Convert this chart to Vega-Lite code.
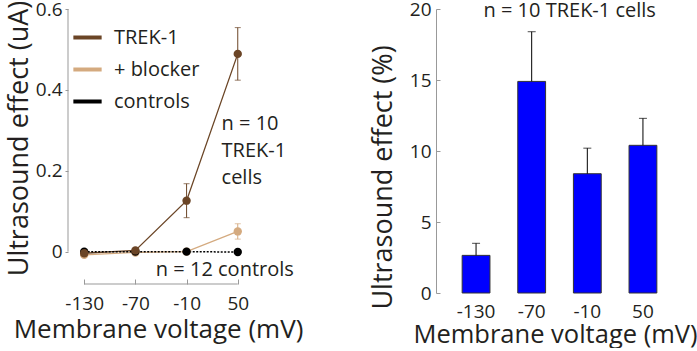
{
  "$schema": "https://vega.github.io/schema/vega-lite/v6.json",
  "padding": {"left": 5, "top": 0, "right": 0, "bottom": 0},
  "background": "white",
  "config": {
    "font": "Open Sans",
    "view": {"stroke": null},
    "axis": {
      "grid": false,
      "labelFont": "Open Sans",
      "titleFont": "Open Sans",
      "labelColor": "#231f20",
      "titleColor": "#231f20",
      "labelFontSize": 19,
      "titleFontSize": 26,
      "titleFontWeight": "normal",
      "domainColor": "#999999",
      "tickColor": "#999999"
    },
    "concat": {"spacing": 188}
  },
  "bounds": "flush",
  "resolve": {"legend": {"color": "independent"}},
  "hconcat": [
    {
      "width": 180,
      "height": 275,
      "data": {
        "values": [
          {"series": "+ blocker", "v": -130, "y": -0.008, "lo": -0.011, "hi": -0.005},
          {"series": "+ blocker", "v": -70, "y": -0.002, "lo": -0.005, "hi": 0.001},
          {"series": "+ blocker", "v": -10, "y": 0.0, "lo": -0.003, "hi": 0.003},
          {"series": "+ blocker", "v": 50, "y": 0.05, "lo": 0.031, "hi": 0.069},
          {"series": "controls", "v": -130, "y": 0.0, "lo": -0.002, "hi": 0.002},
          {"series": "controls", "v": -70, "y": 0.0, "lo": -0.002, "hi": 0.002},
          {"series": "controls", "v": -10, "y": 0.0, "lo": -0.002, "hi": 0.002},
          {"series": "controls", "v": 50, "y": -0.001, "lo": -0.003, "hi": 0.001},
          {"series": "TREK-1", "v": -130, "y": -0.004, "lo": -0.007, "hi": -0.001},
          {"series": "TREK-1", "v": -70, "y": 0.003, "lo": 0.0, "hi": 0.006},
          {"series": "TREK-1", "v": -10, "y": 0.126, "lo": 0.084, "hi": 0.168},
          {"series": "TREK-1", "v": 50, "y": 0.489, "lo": 0.424, "hi": 0.554}
        ]
      },
      "encoding": {
        "x": {
          "field": "v", "type": "quantitative",
          "scale": {"domain": [-149, 62], "nice": false, "zero": false},
          "axis": {
            "values": [-130, -70, -10, 50], "labelExpr": "'' + datum.value", "domain": false, "tickSize": -5,
            "labelPadding": 15, "title": "Membrane voltage (mV)", "titlePadding": 3
          }
        },
        "y": {
          "field": "y", "type": "quantitative",
          "scale": {"domain": [-0.08, 0.6], "nice": false, "zero": false},
          "axis": {
            "values": [0, 0.2, 0.4, 0.6], "format": ".1~f", "domain": false,
            "tickSize": 3, "labelPadding": 3, "title": "Ultrasound effect (uA)",
            "titleFontSize": 27, "titlePadding": 2, "titleY": 129
          }
        }
      },
      "layer": [
        {
          "transform": [{"filter": "datum.series === 'TREK-1' && datum.v === 50"}],
          "mark": {"type": "rule", "color": "#999999", "strokeWidth": 1},
          "encoding": {"x": {"datum": -130}, "x2": {"datum": 50}, "y": {"datum": -0.08}}
        },
        {
          "transform": [{"filter": "datum.series === 'TREK-1' && datum.v === 50"}],
          "mark": {"type": "rule", "color": "#999999", "strokeWidth": 1},
          "encoding": {"x": {"datum": -149}, "y": {"datum": 0}, "y2": {"datum": 0.6}}
        },
        {
          "transform": [{"filter": "datum.series !== 'controls'"}],
          "mark": {"type": "line", "strokeWidth": 1.3},
          "encoding": {
            "color": {
              "field": "series", "type": "nominal",
              "scale": {"domain": ["TREK-1", "+ blocker", "controls"], "range": ["#6b4526", "#d4aa7f", "#000000"]},
              "legend": {
                "orient": "none", "legendX": 3, "legendY": 12, "title": null,
                "symbolType": "stroke", "symbolStrokeWidth": 4, "symbolSize": 800,
                "symbolDash": [], "labelFontSize": 20, "labelColor": "#231f20",
                "labelOffset": 10, "rowPadding": 5, "padding": 0
              }
            }
          }
        },
        {
          "transform": [{"filter": "datum.series === 'controls'"}],
          "mark": {"type": "line", "strokeWidth": 1.5, "color": "#000000", "strokeDash": [2, 1.5]},
          "encoding": {}
        },
        {
          "mark": {"type": "rule", "strokeWidth": 1},
          "encoding": {
            "y": {"field": "lo", "type": "quantitative"},
            "y2": {"field": "hi"},
            "color": {"field": "series", "type": "nominal", "legend": null}
          }
        },
        {
          "mark": {"type": "tick", "orient": "horizontal", "size": 6, "thickness": 1},
          "encoding": {
            "y": {"field": "lo", "type": "quantitative"},
            "color": {"field": "series", "type": "nominal", "legend": null}
          }
        },
        {
          "mark": {"type": "tick", "orient": "horizontal", "size": 6, "thickness": 1},
          "encoding": {
            "y": {"field": "hi", "type": "quantitative"},
            "color": {"field": "series", "type": "nominal", "legend": null}
          }
        },
        {
          "mark": {"type": "point", "filled": true, "size": 70, "opacity": 1},
          "encoding": {
            "color": {"field": "series", "type": "nominal", "legend": null}
          }
        },
        {
          "transform": [{"filter": "datum.series === 'TREK-1' && datum.v === 50"}],
          "mark": {"type": "text", "align": "left", "baseline": "alphabetic", "fontSize": 20, "color": "#231f20", "lineBreak": "\n", "lineHeight": 27},
          "encoding": {
            "x": {"datum": 31}, "y": {"datum": 0.302},
            "text": {"value": "n = 10\nTREK-1\ncells"}
          }
        },
        {
          "transform": [{"filter": "datum.series === 'controls' && datum.v === 50"}],
          "mark": {"type": "text", "align": "left", "baseline": "alphabetic", "fontSize": 20, "color": "#231f20"},
          "encoding": {
            "x": {"datum": -46}, "y": {"datum": -0.061},
            "text": {"value": "n = 12 controls"}
          }
        }
      ]
    },
    {
      "width": 247,
      "height": 284,
      "data": {
        "values": [
          {"v": "-130", "pct": 2.65, "top": 3.5},
          {"v": "-70", "pct": 14.9, "top": 18.4},
          {"v": "-10", "pct": 8.4, "top": 10.2},
          {"v": "50", "pct": 10.4, "top": 12.3}
        ]
      },
      "encoding": {
        "x": {
          "field": "v", "type": "nominal", "sort": ["-130", "-70", "-10", "50"],
          "scale": {"paddingInner": 0.5, "paddingOuter": 0.47},
          "axis": {"labelAngle": 0, "domain": false, "ticks": false, "labelPadding": 9, "title": "Membrane voltage (mV)", "titleFontSize": 25.5, "titlePadding": 1, "titleX": 119}
        }
      },
      "layer": [
        {
          "mark": {"type": "bar", "color": "#0000ff", "stroke": "#333333", "strokeWidth": 1},
          "encoding": {
            "y": {
              "field": "pct", "type": "quantitative",
              "scale": {"domain": [0, 20], "nice": false},
              "axis": {"values": [0, 5, 10, 15, 20], "tickSize": -4, "labelPadding": 9, "title": "Ultrasound effect (%)", "titleFontSize": 27, "titlePadding": 12, "titleY": 168}
            }
          }
        },
        {
          "mark": {"type": "rule", "color": "#000000", "strokeWidth": 1},
          "encoding": {"y": {"field": "pct", "type": "quantitative"}, "y2": {"field": "top"}}
        },
        {
          "mark": {"type": "tick", "orient": "horizontal", "size": 8, "thickness": 1, "color": "#000000"},
          "encoding": {"y": {"field": "top", "type": "quantitative"}}
        },
        {
          "transform": [{"filter": "datum.v === '-70'"}],
          "mark": {"type": "text", "align": "center", "baseline": "alphabetic", "fontSize": 20, "color": "#231f20", "dx": 38, "dy": 8},
          "encoding": {
            "x": {"datum": "-70"}, "y": {"datum": 20},
            "text": {"value": "n = 10 TREK-1 cells"}
          }
        }
      ]
    }
  ]
}
